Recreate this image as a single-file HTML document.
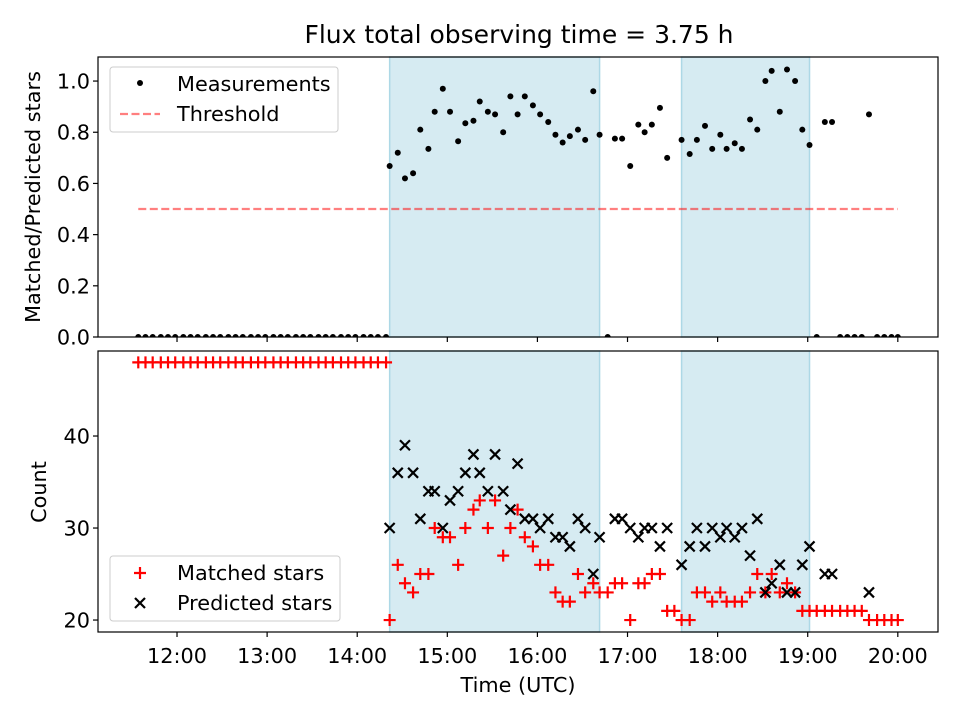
<!DOCTYPE html>
<html><head><meta charset="utf-8"><style>
body{margin:0;background:#fff;font-family:"DejaVu Sans","Liberation Sans",sans-serif}
svg{display:block}
</style></head><body>
<svg id="chart" width="960" height="720" xmlns="http://www.w3.org/2000/svg" font-family="DejaVu Sans, Liberation Sans, sans-serif"></svg>
<script>
const zeroTimes=[11.57,11.65,11.73,11.82,11.90,11.98,12.07,12.15,12.23,12.32,12.40,12.48,12.57,12.65,12.73,12.82,12.90,12.98,13.07,13.15,13.23,13.32,13.40,13.48,13.57,13.65,13.73,13.82,13.90,13.98,14.07,14.15,14.23,14.32];
const measTimes=[14.36,14.45,14.53,14.62,14.70,14.79,14.86,14.95,15.03,15.12,15.20,15.29,15.36,15.45,15.53,15.62,15.70,15.78,15.86,15.95,16.03,16.12,16.20,16.28,16.36,16.45,16.53,16.62,16.69,16.78,16.86,16.94,17.03,17.12,17.19,17.27,17.36,17.44,17.60,17.69,17.77,17.86,17.94,18.03,18.10,18.19,18.27,18.36,18.44,18.53,18.60,18.69,18.77,18.86,18.94,19.02,19.10,19.19,19.27,19.36,19.44,19.52,19.60,19.68,19.77,19.85,19.93,20.00];
const measValues=[0.668,0.72,0.62,0.64,0.81,0.735,0.88,0.97,0.88,0.765,0.835,0.845,0.92,0.88,0.87,0.80,0.94,0.87,0.94,0.905,0.87,0.84,0.79,0.76,0.785,0.81,0.77,0.96,0.79,0,0.775,0.775,0.668,0.83,0.80,0.83,0.895,0.70,0.77,0.715,0.77,0.825,0.735,0.79,0.735,0.757,0.735,0.85,0.81,1.0,1.04,0.88,1.045,1.0,0.81,0.75,0,0.84,0.84,0,0,0,0,0.87,0,0,0,0];
const matchedTimes=[14.36,14.45,14.53,14.62,14.70,14.79,14.86,14.95,15.03,15.12,15.20,15.29,15.36,15.45,15.53,15.62,15.70,15.78,15.86,15.95,16.03,16.12,16.20,16.28,16.36,16.45,16.53,16.62,16.69,16.78,16.86,16.94,17.03,17.12,17.19,17.27,17.36,17.44,17.52,17.60,17.69,17.77,17.86,17.94,18.03,18.10,18.19,18.27,18.36,18.44,18.53,18.60,18.69,18.77,18.86,18.94,19.02,19.10,19.19,19.27,19.36,19.44,19.52,19.60,19.68,19.77,19.85,19.93,20.00];
const matchedValues=[20,26,24,23,25,25,30,29,29,26,30,32,33,30,33,27,30,32,29,28,26,26,23,22,22,25,23,24,23,23,24,24,20,24,24,25,25,21,21,20,20,23,23,22,23,22,22,22,23,25,23,25,23,24,23,21,21,21,21,21,21,21,21,21,20,20,20,20,20];
const matchedEarly=48;
const predTimes=[14.36,14.45,14.53,14.62,14.70,14.79,14.86,14.95,15.03,15.12,15.20,15.29,15.36,15.45,15.53,15.62,15.70,15.78,15.86,15.95,16.03,16.12,16.20,16.28,16.36,16.45,16.53,16.62,16.69,16.86,16.94,17.03,17.12,17.19,17.27,17.36,17.44,17.60,17.69,17.77,17.86,17.94,18.03,18.10,18.19,18.27,18.36,18.44,18.53,18.60,18.69,18.77,18.86,18.94,19.02,19.19,19.27,19.68];
const predValues=[30,36,39,36,31,34,34,30,33,34,36,38,36,34,38,34,32,37,31,31,30,31,29,29,28,31,30,25,29,31,31,30,29,30,30,28,30,26,28,30,28,30,29,30,29,30,27,31,23,24,26,23,23,26,28,25,25,23];
const spans=[[14.36,16.69],[17.60,19.02]];
const threshold=[11.57,20.00,0.5];
const xTicks=[12,13,14,15,16,17,18,19,20];
const xTickLabels=["12:00","13:00","14:00","15:00","16:00","17:00","18:00","19:00","20:00"];
const topTicks=[0,0.2,0.4,0.6,0.8,1.0];
const botTicks=[20,30,40];

const NS="http://www.w3.org/2000/svg";
const svg=document.getElementById('chart');
function mk(tag,attrs,parent,name,inter){const e=document.createElementNS(NS,tag);for(const k in attrs)e.setAttribute(k,attrs[k]);


(parent||svg).appendChild(e);return e;}
const L=98,R=938;
const FS=20.8;
const xs=t=>L+(t-11.123)/(20.446-11.123)*(R-L);
const T1=57,B1=337,T2=351,B2=632;
const y1=v=>B1-(v-0)/1.094*(B1-T1);
const y2=v=>B2-(v-18.7)/(49.24-18.7)*(B2-T2);

const defs=mk('defs',{},svg,'clip-defs');
const c1=mk('clipPath',{id:'clipTop'},defs,'clip-top');mk('rect',{x:L,y:T1,width:R-L,height:B1-T1},c1,'clip-top-rect');
const c2=mk('clipPath',{id:'clipBot'},defs,'clip-bottom');mk('rect',{x:L,y:T2,width:R-L,height:B2-T2},c2,'clip-bottom-rect');

const title=mk('text',{x:519,y:43,'text-anchor':'middle','font-size':25,fill:'#000'},svg,'chart-title');title.textContent='Flux total observing time = 3.75 h';

function panel(T,B,ys,ticks,fmt,name){
  const g=mk('g',{},svg,name+'-panel');
  spans.forEach((s,i)=>{mk('rect',{x:xs(s[0]),y:T,width:xs(s[1])-xs(s[0]),height:B-T,fill:'#add8e6','fill-opacity':0.5,stroke:'#add8e6','stroke-width':1.5},g,name+'-shade-'+i);});
  ticks.forEach(v=>{const y=ys(v);mk('line',{x1:L-5,x2:L,y1:y,y2:y,stroke:'#000','stroke-width':1.2},g,'y-tick');
    const t=mk('text',{x:L-8,y:y+7.5,'text-anchor':'end','font-size':FS},g,'y-tick-label');t.textContent=fmt(v);});
  xTicks.forEach(v=>{mk('line',{x1:xs(v),x2:xs(v),y1:B,y2:B+5,stroke:'#000','stroke-width':1.2},g,'x-tick');});
  return g;
}
const g1=panel(T1,B1,y1,topTicks,v=>v.toFixed(1),'top');
const g2=panel(T2,B2,y2,botTicks,v=>String(v),'bottom');
xTicks.forEach((v,i)=>{const t=mk('text',{x:xs(v),y:B2+31,'text-anchor':'middle','font-size':FS},g2,'x-tick-label');t.textContent=xTickLabels[i];});

const d1=mk('g',{'clip-path':'url(#clipTop)'},g1,'top-data');
const d2=mk('g',{'clip-path':'url(#clipBot)'},g2,'bottom-data');
mk('line',{x1:xs(threshold[0]),x2:xs(threshold[1]),y1:y1(threshold[2]),y2:y1(threshold[2]),stroke:'#ff0000','stroke-opacity':0.5,'stroke-width':2.2,'stroke-dasharray':'8,3.5'},d1,'threshold-line');
zeroTimes.forEach(t=>mk('circle',{cx:xs(t),cy:y1(0),r:3,fill:'#000'},d1,'measurement-point'));
measTimes.forEach((t,i)=>mk('circle',{cx:xs(t),cy:y1(measValues[i]),r:3,fill:'#000'},d1,'measurement-point'));

function plus(x,y,g){mk('path',{d:`M${x-6},${y}H${x+6}M${x},${y-6}V${y+6}`,stroke:'#ff0000','stroke-width':2.2,fill:'none'},g,'matched-star-marker');}
function cross(x,y,g){mk('path',{d:`M${x-5},${y-5}L${x+5},${y+5}M${x-5},${y+5}L${x+5},${y-5}`,stroke:'#000','stroke-width':2.2,fill:'none'},g,'predicted-star-marker');}
zeroTimes.forEach(t=>plus(xs(t),y2(matchedEarly),d2));
matchedTimes.forEach((t,i)=>plus(xs(t),y2(matchedValues[i]),d2));
predTimes.forEach((t,i)=>cross(xs(t),y2(predValues[i]),d2));

mk('rect',{x:L,y:T1,width:R-L,height:B1-T1,fill:'none',stroke:'#000','stroke-width':1.2},g1,'top-axes-frame');
mk('rect',{x:L,y:T2,width:R-L,height:B2-T2,fill:'none',stroke:'#000','stroke-width':1.2},g2,'bottom-axes-frame');

let t=mk('text',{x:40,y:197,'text-anchor':'middle','font-size':FS,transform:'rotate(-90 40 197)'},svg,'top-y-axis-title');t.textContent='Matched/Predicted stars';
t=mk('text',{x:46,y:492,'text-anchor':'middle','font-size':FS,transform:'rotate(-90 46 492)'},svg,'bottom-y-axis-title');t.textContent='Count';
t=mk('text',{x:518,y:692,'text-anchor':'middle','font-size':FS},svg,'x-axis-title');t.textContent='Time (UTC)';

const lg1=mk('g',{},svg,'top-legend');
mk('rect',{x:110,y:67,width:228,height:65,rx:3,fill:'#fff','fill-opacity':0.8,stroke:'#ccc'},lg1,'top-legend-box');
mk('circle',{cx:140,cy:83,r:3,fill:'#000'},lg1,'legend-measurements-marker');
t=mk('text',{x:177,y:91,'font-size':FS},lg1,'legend-measurements-label');t.textContent='Measurements';
mk('line',{x1:120,x2:160,y1:114,y2:114,stroke:'#ff0000','stroke-opacity':0.5,'stroke-width':2.2,'stroke-dasharray':'8,3.5'},lg1,'legend-threshold-line');
t=mk('text',{x:177,y:121,'font-size':FS},lg1,'legend-threshold-label');t.textContent='Threshold';

const lg2=mk('g',{},svg,'bottom-legend');
mk('rect',{x:110,y:556,width:230,height:65,rx:3,fill:'#fff','fill-opacity':0.8,stroke:'#ccc'},lg2,'bottom-legend-box');
plus(140,573,lg2);
t=mk('text',{x:177,y:580,'font-size':FS},lg2,'legend-matched-label');t.textContent='Matched stars';
cross(140,603,lg2);
t=mk('text',{x:177,y:610,'font-size':FS},lg2,'legend-predicted-label');t.textContent='Predicted stars';
</script>
</body></html>
